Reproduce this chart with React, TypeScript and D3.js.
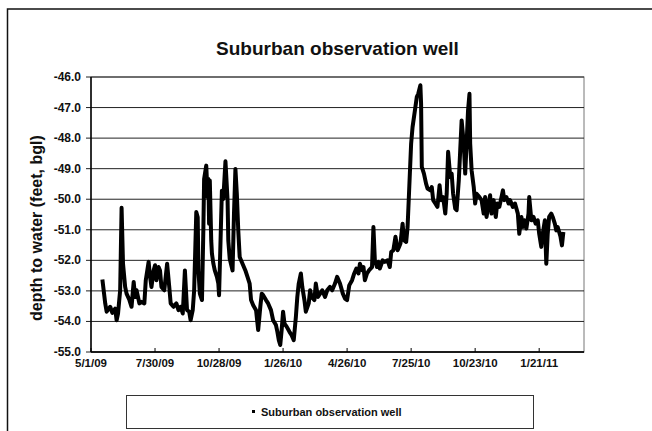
import { useEffect, useRef } from 'react';
import * as d3 from 'd3';

// Suburban observation well — depth to water
const START_DATE = '2009-05-01';
const END_DAY = 693; // right edge of the plot, in days after START_DATE
const X_TICK_LABELS = ['5/1/09', '7/30/09', '10/28/09', '1/26/10', '4/26/10', '7/25/10', '10/23/10', '1/21/11'];
const Y_TICKS = [-46, -47, -48, -49, -50, -51, -52, -53, -54, -55];

// days after START_DATE
const DAYS = [
  16, 20, 22, 27, 30, 34, 36, 38, 41, 43, 45, 48, 50, 54, 57, 60, 62, 64, 68, 71,
  75, 77, 81, 83, 85, 88, 90, 92, 95, 97, 99, 103, 107, 110, 112, 116, 120, 123, 126, 129,
  132, 135, 138, 140, 143, 145, 148, 150, 151, 153, 156, 158, 159, 162, 164, 165, 166, 167, 169, 170,
  172, 174, 177, 179, 180, 184, 186, 189, 192, 193, 195, 199, 201, 203, 205, 207, 209, 213, 217, 220,
  223, 225, 228, 232, 235, 238, 240, 242, 246, 249, 253, 256, 260, 262, 264, 266, 268, 270, 272, 275,
  279, 282, 285, 288, 290, 292, 295, 297, 300, 302, 306, 308, 310, 314, 316, 319, 322, 325, 329, 332,
  336, 339, 343, 346, 350, 354, 357, 360, 363, 367, 370, 373, 376, 378, 381, 383, 385, 388, 391, 395,
  397, 399, 402, 404, 406, 410, 413, 417, 420, 422, 425, 428, 431, 433, 435, 438, 440, 443, 445, 447,
  450, 452, 456, 458, 460, 463, 464, 465, 468, 471, 473, 477, 479, 481, 484, 487, 490, 492, 495, 498,
  500, 502, 505, 507, 509, 512, 514, 517, 519, 521, 524, 526, 528, 530, 532, 533, 535, 538, 540, 542,
  546, 549, 552, 554, 556, 559, 561, 563, 566, 569, 571, 574, 577, 579, 581, 584, 587, 589, 593, 596,
  600, 602, 605, 607, 609, 612, 615, 616, 619, 622, 625, 628, 630, 633, 635, 638, 640, 642, 644, 647,
  649, 652, 654, 656, 660, 662, 664,
];

// depth to water, feet below ground level
const DEPTH = [
  -52.63, -53.41, -53.68, -53.52, -53.72, -53.58, -53.96, -53.74, -52.98, -50.28, -52.11, -52.87, -53.09, -53.30, -53.52, -52.71, -53.20, -52.98, -53.41, -53.36,
  -53.41, -52.65, -52.05, -52.54, -52.87, -52.33, -52.16, -52.65, -52.22, -52.33, -52.87, -52.98, -52.11, -52.87, -53.41, -53.52, -53.41, -53.63, -53.52, -53.74,
  -52.33, -53.63, -53.68, -53.96, -53.63, -52.98, -50.42, -50.59, -52.33, -53.09, -53.30, -50.91, -49.34, -48.90, -49.93, -49.34, -50.80, -49.39, -51.35, -51.78,
  -52.11, -52.33, -52.54, -52.76, -53.14, -49.72, -49.99, -48.76, -50.04, -51.35, -51.95, -52.33, -50.48, -49.01, -49.83, -51.02, -51.89, -52.11, -52.33, -52.54,
  -52.76, -53.30, -53.47, -53.63, -54.28, -53.52, -53.09, -53.14, -53.30, -53.41, -53.63, -53.96, -54.12, -54.34, -54.61, -54.77, -54.28, -53.68, -54.07, -54.17,
  -54.34, -54.45, -54.61, -53.85, -53.20, -52.76, -52.43, -52.87, -53.30, -53.68, -53.41, -52.98, -53.20, -53.30, -52.76, -53.20, -53.09, -52.98, -53.20, -52.98,
  -52.87, -52.98, -52.76, -52.54, -52.76, -53.09, -53.25, -53.30, -52.82, -52.65, -52.43, -52.27, -52.43, -52.11, -52.32, -52.22, -52.65, -52.43, -52.32, -52.22,
  -50.91, -52.00, -52.22, -52.05, -52.27, -52.00, -52.05, -52.00, -52.22, -51.73, -51.67, -51.23, -51.67, -51.56, -51.45, -50.80, -51.34, -51.40, -50.91, -49.82,
  -48.18, -47.64, -46.98, -46.65, -46.55, -46.27, -46.87, -48.94, -49.16, -49.49, -49.65, -49.71, -49.60, -50.03, -50.14, -50.25, -49.54, -50.03, -49.93, -50.47,
  -49.82, -48.45, -49.27, -49.16, -49.82, -50.31, -50.36, -49.38, -48.40, -47.42, -48.18, -49.16, -48.18, -47.09, -46.55, -48.18, -49.05, -49.60, -50.14, -49.82,
  -49.93, -50.03, -50.47, -49.93, -50.58, -50.14, -49.87, -50.47, -50.03, -50.58, -50.14, -50.25, -49.93, -49.71, -50.03, -49.93, -50.14, -50.03, -50.25, -50.14,
  -50.47, -51.13, -50.58, -50.91, -50.69, -50.96, -50.47, -49.93, -50.69, -50.58, -50.80, -50.69, -51.13, -51.56, -51.13, -50.69, -52.11, -51.13, -50.58, -50.47,
  -50.58, -50.80, -51.02, -50.91, -51.23, -51.51, -51.07,
];

const SERIES_NAME = 'Suburban observation well';
const Y_TITLE = 'depth to water (feet, bgl)';

const W = 652;
const H = 431;
const FONT = '"Liberation Sans", Arial, sans-serif';

export default function App() {
  const svgRef = useRef<SVGSVGElement>(null);

  useEffect(() => {
    if (!svgRef.current) return;
    const svg = d3.select(svgRef.current);
    svg.selectAll('*').remove();

    const plot = { left: 91, right: 584, top: 77, bottom: 352 };
    const start = d3.utcParse('%Y-%m-%d')(START_DATE) as Date;
    const parseTick = d3.utcParse('%m/%d/%y');
    const tickDates = X_TICK_LABELS.map(s => parseTick(s) as Date);

    const x = d3.scaleUtc()
      .domain([start, d3.utcDay.offset(start, END_DAY)])
      .range([plot.left, plot.right]);
    const y = d3.scaleLinear().domain([-55, -46]).range([plot.bottom, plot.top]);

    // outer chart border (cut off by the scan at right and bottom)
    svg.append('rect')
      .attr('x', 7.5).attr('y', 9)
      .attr('width', 700).attr('height', 500)
      .attr('fill', 'none').attr('stroke', '#111').attr('stroke-width', 1.5);

    svg.append('text')
      .attr('x', (plot.left + plot.right) / 2).attr('y', 55)
      .attr('text-anchor', 'middle')
      .attr('font-family', FONT).attr('font-weight', 'bold').attr('font-size', 19)
      .attr('fill', '#111')
      .text(SERIES_NAME);

    // frame
    svg.append('rect')
      .attr('x', plot.left).attr('y', plot.top)
      .attr('width', plot.right - plot.left).attr('height', plot.bottom - plot.top)
      .attr('fill', 'none').attr('stroke', '#777').attr('stroke-width', 1);

    // gridlines + outside y ticks
    svg.append('g').selectAll('line')
      .data(Y_TICKS)
      .enter().append('line')
      .attr('x1', plot.left - 5).attr('x2', plot.right)
      .attr('y1', d => y(d)).attr('y2', d => y(d))
      .attr('stroke', '#222').attr('stroke-width', 1);

    svg.append('g').selectAll('text')
      .data(Y_TICKS)
      .enter().append('text')
      .attr('x', plot.left - 10).attr('y', d => y(d) + 4)
      .attr('text-anchor', 'end')
      .attr('font-family', FONT).attr('font-weight', 'bold').attr('font-size', 12)
      .attr('fill', '#111')
      .text(d => d.toFixed(1));

    // axes
    svg.append('line')
      .attr('x1', plot.left).attr('x2', plot.left)
      .attr('y1', plot.top).attr('y2', plot.bottom)
      .attr('stroke', '#000').attr('stroke-width', 1.5);
    svg.append('line')
      .attr('x1', plot.left).attr('x2', plot.right)
      .attr('y1', plot.bottom).attr('y2', plot.bottom)
      .attr('stroke', '#000').attr('stroke-width', 1.5);

    svg.append('g').selectAll('line')
      .data(tickDates)
      .enter().append('line')
      .attr('x1', d => x(d)).attr('x2', d => x(d))
      .attr('y1', plot.bottom).attr('y2', plot.bottom - 4)
      .attr('stroke', '#000');

    svg.append('g').selectAll('text')
      .data(tickDates)
      .enter().append('text')
      .attr('x', d => x(d)).attr('y', plot.bottom + 15)
      .attr('text-anchor', 'middle')
      .attr('font-family', FONT).attr('font-weight', 'bold').attr('font-size', 11.5)
      .attr('fill', '#111')
      .text((d, i) => X_TICK_LABELS[i]);

    svg.append('text')
      .attr('transform', `translate(42,${321}) rotate(-90)`)
      .attr('text-anchor', 'start')
      .attr('font-family', FONT).attr('font-weight', 'bold').attr('font-size', 16)
      .attr('fill', '#111')
      .text(Y_TITLE);

    // the well record
    const points = DAYS.map((d, i) => ({ date: d3.utcDay.offset(start, d), depth: DEPTH[i] }));
    const line = d3.line<{ date: Date; depth: number }>()
      .x(d => x(d.date))
      .y(d => y(d.depth));
    svg.append('path')
      .datum(points)
      .attr('d', line)
      .attr('fill', 'none')
      .attr('stroke', '#000')
      .attr('stroke-width', 4)
      .attr('stroke-linejoin', 'round');

    // legend
    const lg = svg.append('g');
    lg.append('rect')
      .attr('x', 126.5).attr('y', 395.5)
      .attr('width', 407).attr('height', 33)
      .attr('fill', '#fff').attr('stroke', '#333').attr('stroke-width', 1);
    lg.append('rect')
      .attr('x', 252).attr('y', 410)
      .attr('width', 3).attr('height', 3)
      .attr('fill', '#000');
    lg.append('text')
      .attr('x', 261).attr('y', 416)
      .attr('font-family', FONT).attr('font-weight', 'bold').attr('font-size', 11)
      .attr('fill', '#111')
      .text(SERIES_NAME);
  }, []);

  return (
    <svg
      ref={svgRef}
      width={W}
      height={H}
      style={{ position: 'absolute', left: 0, top: 0, background: '#fff' }}
    />
  );
}
